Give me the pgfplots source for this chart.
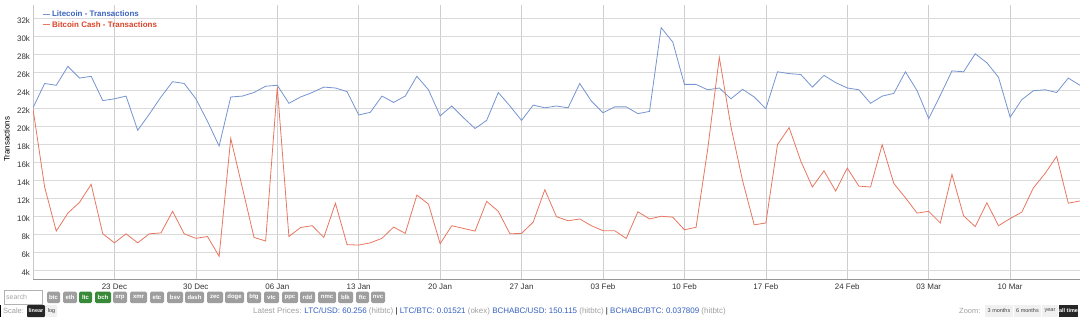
\documentclass[border=0pt]{standalone}
\usepackage{pgfplots}
\usepackage{pgfplotstable}
\pgfplotsset{compat=1.18}
\usepackage{fontspec}
\setmainfont{Liberation Sans}
\definecolor{ltcline}{RGB}{118,148,208}
\definecolor{ltctext}{RGB}{60,100,190}
\definecolor{bchline}{RGB}{232,118,96}
\definecolor{bchtext}{RGB}{218,68,40}
\definecolor{gridc}{RGB}{218,218,218}
\definecolor{vgridc}{RGB}{205,205,210}
\definecolor{tagc}{RGB}{158,158,158}
\definecolor{taggreen}{RGB}{56,138,56}
\definecolor{txt}{RGB}{51,51,51}
\definecolor{ltgray}{RGB}{150,150,150}
\definecolor{linkblue}{RGB}{50,95,190}
\pgfplotstableread{
day ltc bch
-7 22100 22000
-6 24800 13300
-5 24600 8400
-4 26700 10400
-3 25400 11600
-2 25600 13600
-1 22900 8100
0 23100 7100
1 23400 8100
2 19600 7100
3 21400 8100
4 23300 8200
5 25000 10600
6 24800 8100
7 23100 7600
8 20600 7800
9 17850 5600
10 23300 18700
11 23400 13200
12 23800 7700
13 24500 7300
14 24600 24400
15 22600 7800
16 23300 8800
17 23800 9000
18 24400 7700
19 24300 11500
20 23900 6900
21 21300 6850
22 21600 7100
23 23400 7600
24 22700 8850
25 23400 8150
26 25600 12400
27 24100 11400
28 21200 7000
29 22300 9000
30 21000 8700
31 19800 8400
32 20700 11700
33 23800 10600
34 22300 8100
35 20700 8150
36 22400 9400
37 22100 13000
38 22300 10000
39 22100 9550
40 24800 9750
41 22850 9000
42 21550 8450
43 22200 8450
44 22200 7580
45 21450 10550
46 21700 9750
47 31000 10050
48 29400 9950
49 24700 8550
50 24700 8820
51 24100 17500
52 24300 27700
53 23100 20000
54 24150 14000
55 23300 9100
56 22000 9300
57 26100 18000
58 25900 19900
59 25800 16200
60 24400 13300
61 25700 15100
62 24900 12850
63 24300 15400
64 24100 13400
65 22600 13300
66 23400 18000
67 23700 13700
68 26100 12100
69 24000 10400
70 20900 10600
71 23500 9300
72 26200 14700
73 26100 10100
74 28100 8900
75 27100 11550
76 25500 9000
77 21050 9800
78 23000 10500
79 24000 13200
80 24100 14800
81 23800 16700
82 25400 11500
83 24600 11750
}\datatable
\begin{document}
\begin{tikzpicture}
\useasboundingbox (0,0) rectangle (1080bp,-319bp);
\begin{axis}[
  at={(33bp,-279bp)}, anchor=south west,
  scale only axis, width=1047bp, height=274bp,
  xmin=-7, xmax=83, ymin=3080, ymax=33520,
  xtick={0,7,...,77},
  xticklabels={23 Dec,30 Dec,06 Jan,13 Jan,20 Jan,27 Jan,03 Feb,10 Feb,17 Feb,24 Feb,03 Mar,10 Mar},
  ytick={4000,6000,...,32000},
  yticklabels={4k,6k,8k,10k,12k,14k,16k,18k,20k,22k,24k,26k,28k,30k,32k},
  /pgf/number format/assume math mode=true,
  major tick length=0pt,
  tick label style={font=\fontsize{8}{9}\selectfont, text=txt},
  yticklabel style={xshift=0.5bp, yshift=-1.5bp},
  xticklabel style={yshift=-1bp},
  xmajorgrids, ymajorgrids,
  x grid style={vgridc, line width=0.7bp},
  y grid style={gridc, line width=0.9bp},
  axis x line*=bottom, axis y line*=left,
  x axis line style={ltgray, line width=0.8bp, -},
  y axis line style={gridc!80!gray, line width=0.8bp, -},
  ylabel={Transactions},
  ylabel style={font=\fontsize{8}{9}\selectfont, text=black, at={(axis description cs:-0.025,0.51)}, anchor=center},
  legend style={at={(axis description cs:0.008,0.988)}, anchor=north west, draw=none, fill=none,
    font=\bfseries\fontsize{8}{8}\selectfont, row sep=-1bp, inner sep=0.5bp},
  legend cell align=left,
  legend image code/.code={\draw[#1, line width=1bp] (0bp,0bp) -- (7bp,0bp);},
]
\addplot[ltcline, line width=0.8bp] table[x=day, y=ltc] {\datatable};
\addlegendentry{\textcolor{ltctext}{Litecoin - Transactions}}
\addplot[bchline, line width=0.8bp] table[x=day, y=bch] {\datatable};
\addlegendentry{\textcolor{bchtext}{Bitcoin Cash - Transactions}}
\end{axis}
% search box
\draw[gray!60, fill=white] (4bp,-290.5bp) rectangle (42bp,-304bp);
\node[anchor=west, inner sep=0, text=gray!70, font=\fontsize{7}{8}\selectfont] at (6bp,-297.5bp) {search};
% tags
\foreach \n/\a/\b/\c in {btc/47/60/tagc, eth/63/77/tagc, ltc/79/92/taggreen, bch/95/111/taggreen, xrp/113/127/tagc, xmr/130/147/tagc, etc/150/164/tagc, bsv/167/183/tagc, dash/185/204/tagc, zec/207/223/tagc, doge/225/244/tagc, btg/247/261/tagc, vtc/264/279/tagc, ppc/282/298/tagc, rdd/300/315/tagc, nmc/318/336/tagc, blk/338/353/tagc, ftc/356/369/tagc, nvc/371/385/tagc}{
  \fill[\c, rounded corners=1.5bp] (\a bp,-291.5bp) rectangle (\b bp,-303bp);
  \node[text=white, font=\bfseries\fontsize{6}{6}\selectfont, inner sep=0] at ({(\a+\b)/2*1bp},-297.3bp) {\n};
}
% scale row
\fill[black] (0bp,-305bp) rectangle (1bp,-317bp);
\node[anchor=west, inner sep=0, text=gray!75, font=\fontsize{7.5}{8}\selectfont] at (3bp,-311bp) {Scale:};
\fill[black!85, rounded corners=1bp] (27bp,-305bp) rectangle (45bp,-317bp);
\node[text=white, font=\bfseries\fontsize{5.5}{6}\selectfont, inner sep=0] at (36bp,-311bp) {linear};
\fill[gray!12, rounded corners=1bp] (46bp,-305bp) rectangle (57bp,-317bp);
\node[text=black!80, font=\fontsize{5.5}{6}\selectfont, inner sep=0] at (51.5bp,-311bp) {log};
% latest prices
\node[anchor=west, inner sep=0, font=\fontsize{8}{9}\selectfont] at (253bp,-311bp) {%
\textcolor{gray!75}{Latest Prices:} \textcolor{linkblue}{LTC/USD: 60.256} \textcolor{gray!75}{(hitbtc)} \textcolor{black}{|} \textcolor{linkblue}{LTC/BTC: 0.01521} \textcolor{gray!75}{(okex)} \textcolor{linkblue}{BCHABC/USD: 150.115} \textcolor{gray!75}{(hitbtc)} \textcolor{black}{|} \textcolor{linkblue}{BCHABC/BTC: 0.037809} \textcolor{gray!75}{(hitbtc)}};
% zoom
\node[anchor=west, inner sep=0, text=gray!75, font=\fontsize{7.5}{8}\selectfont] at (959bp,-311bp) {Zoom:};
\foreach \t/\a/\b in {3 months/985/1013, 6 months/1014/1041, year/1042/1058}{
  \fill[gray!12] (\a bp,-305bp) rectangle (\b bp,-317bp);
  \node[text=black!75, font=\fontsize{5.5}{6}\selectfont, inner sep=0] at ({(\a+\b)/2*1bp},-311bp) {\t};
}
\fill[black!85] (1059bp,-305bp) rectangle (1078bp,-317bp);
\node[text=white, font=\bfseries\fontsize{5.5}{6}\selectfont, inner sep=0] at (1068.5bp,-311bp) {all time};
\end{tikzpicture}
\end{document}
